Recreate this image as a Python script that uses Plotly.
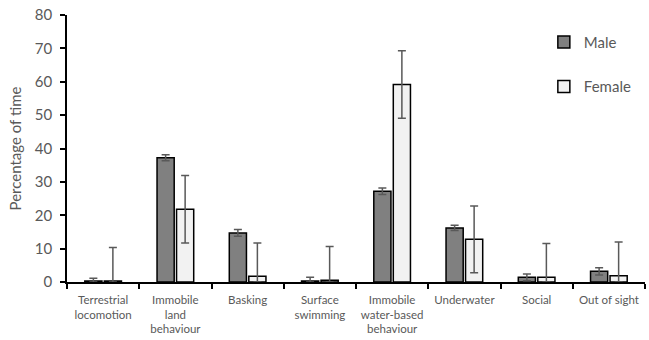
import plotly.graph_objects as go

categories = ["Terrestrial<br>locomotion", "Immobile<br>land<br>behaviour", "Basking",
              "Surface<br>swimming", "Immobile<br>water-based<br>behaviour", "Underwater",
              "Social", "Out of sight"]
male = [0.3, 37.2, 14.7, 0.3, 27.2, 16.2, 1.4, 3.2]
male_err = [0.8, 0.9, 1.0, 1.1, 1.0, 0.8, 1.0, 1.1]
female = [0.3, 21.8, 1.7, 0.5, 59.2, 12.8, 1.4, 1.9]
female_err = [10.0, 10.1, 10.0, 10.1, 10.1, 10.0, 10.1, 10.1]
y_ticks = [0, 10, 20, 30, 40, 50, 60, 70, 80]

font_family = "Lato, Liberation Sans, sans-serif"
grey = "#595959"

fig = go.Figure()
fig.add_trace(go.Bar(
    x=categories, y=male, name="Male", legendgroup="m",
    marker=dict(color="#808080", line=dict(color="black", width=1.5)),
    error_y=dict(type="data", array=male_err,
                 arrayminus=[min(e, v) for e, v in zip(male_err, male)],
                 color=grey, thickness=1.5, width=4),
))
fig.add_trace(go.Bar(
    x=categories, y=female, name="Female", legendgroup="f",
    marker=dict(color="#f2f2f2", line=dict(color="black", width=1.5)),
    error_y=dict(type="data", array=female_err,
                 arrayminus=[min(e, v) for e, v in zip(female_err, female)],
                 color=grey, thickness=1.5, width=4),
))

fig.update_layout(
    width=649, height=340,
    margin=dict(l=67, r=4, t=15, b=58, autoexpand=False),
    plot_bgcolor="white", paper_bgcolor="white",
    barmode="group", bargap=0.46, bargroupgap=0.12,
    font=dict(family=font_family, color=grey),
    showlegend=True,
    legend=dict(x=0.825, y=0.96, xanchor="left", yanchor="top",
                font=dict(size=15, color=grey), tracegroupgap=22,
                bgcolor="rgba(0,0,0,0)", itemwidth=30),
)
fig.update_xaxes(
    automargin=False,
    showline=True, linecolor="black", linewidth=1.5,
    ticks="outside", tickson="boundaries", ticklen=5, tickcolor="black", tickwidth=1.5,
    tickfont=dict(size=11.5, color=grey), tickangle=0, showgrid=False,
    ticklabelstandoff=6,
)
fig.update_yaxes(
    automargin=False,
    range=[0, 80], tickvals=y_ticks,
    showline=True, linecolor="black", linewidth=1.5,
    ticks="outside", ticklen=5, tickcolor="black", tickwidth=1.5,
    tickfont=dict(size=15, color=grey), showgrid=False, zeroline=False,
    ticklabelstandoff=5,
    title=dict(text="Percentage of time", font=dict(size=15, color=grey), standoff=10),
)

fig.write_html("out.html", config={"displayModeBar": False},
               post_script="document.body.style.margin='0';")
